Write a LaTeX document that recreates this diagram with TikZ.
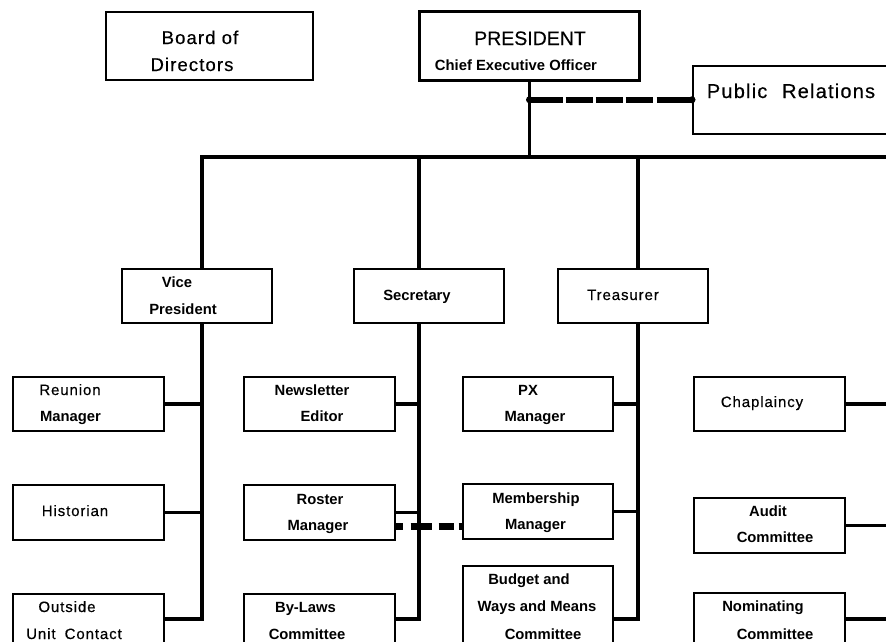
\documentclass[tikz,border=0pt]{standalone}
\usepackage{fontspec}
\setmainfont{Liberation Sans}
\newfontfamily\spcfont[LetterSpace=6,FakeBold=0.4]{Liberation Sans}
\newfontfamily\prfont[FakeBold=0.3]{Liberation Sans}
\begin{document}
\begin{tikzpicture}[x=1pt,y=-1pt,
  box/.style={draw, line width=1.5pt, rectangle, inner sep=0pt, anchor=north west},
  conn/.style={line width=3.5pt},
  rg/.style={font=\spcfont\fontsize{15}{16}\selectfont, inner sep=0pt, anchor=base},
  bd/.style={font=\bfseries\fontsize{14.8}{16}\selectfont, inner sep=0pt, anchor=base},
  big/.style={font=\spcfont\fontsize{18.5}{20}\selectfont, inner sep=0pt, anchor=base},
  pdash/.style={line width=5.5pt, dash pattern=on 33pt off 3pt on 27pt off 3pt on 27pt off 3pt on 27pt off 4pt on 40pt off 10pt},
  rdash/.style={line width=7pt, dash pattern=on 7pt off 8pt on 21pt off 7pt on 15pt off 5pt on 6pt off 10pt}
]
\useasboundingbox (0,0) rectangle (886,641);
\fill[white] (0,0) rectangle (886,641);
\clip (0,0) rectangle (886,641);

% boxes
\node[box, minimum width=207pt, minimum height=68pt] (board) at (105,11) {};
\node[box, line width=3pt, minimum width=220pt, minimum height=69pt] (pres) at (418,10) {};
\node[box, minimum width=260pt, minimum height=68pt] (pr) at (692,65) {};
\node[box, minimum width=150pt, minimum height=54pt] (vp) at (121,268) {};
\node[box, minimum width=150pt, minimum height=54pt] (sec) at (353,268) {};
\node[box, minimum width=150pt, minimum height=54pt] (tre) at (557,268) {};
\node[box, minimum width=151pt, minimum height=54pt] (reunion) at (12,376) {};
\node[box, minimum width=151pt, minimum height=55pt] (hist) at (12,484) {};
\node[box, minimum width=151pt, minimum height=50pt] (outside) at (12,593) {};
\node[box, minimum width=151pt, minimum height=54pt] (news) at (243,376) {};
\node[box, minimum width=151pt, minimum height=55pt] (roster) at (243,484) {};
\node[box, minimum width=151pt, minimum height=50pt] (bylaws) at (243,593) {};
\node[box, minimum width=150pt, minimum height=54pt] (px) at (462,376) {};
\node[box, minimum width=150pt, minimum height=55pt] (mem) at (462,483) {};
\node[box, minimum width=150pt, minimum height=106pt] (budget) at (462,565) {};
\node[box, minimum width=151pt, minimum height=54pt] (chap) at (693,376) {};
\node[box, minimum width=151pt, minimum height=55pt] (audit) at (693,497) {};
\node[box, minimum width=151pt, minimum height=52pt] (nom) at (693,592) {};

% texts
\node[big] (boardA) at (200,44) {Board of};
\node[big] (boardB) at (192,71) {Directors};
\node[font=\prfont\fontsize{19.5}{20}\selectfont, inner sep=0pt, anchor=base] (presA) at (530,45) {PRESIDENT};
\node[bd] (presB) at (516,70) {Chief Executive Officer};
\node[big, font=\spcfont\fontsize{20}{20}\selectfont] (prT) at (791,98) {Public\hspace{8pt} Relations};
\node[bd] (vpA) at (177,287) {Vice};
\node[bd] (vpB) at (183,314) {President};
\node[bd] (secT) at (417,300) {Secretary};
\node[rg] (treT) at (623,300) {Treasurer};
\node[rg] (reuA) at (70,395) {Reunion};
\node[bd] (reuB) at (70.5,421) {Manager};
\node[rg] (histT) at (75,516) {Historian};
\node[rg] (outA) at (67,612) {Outside};
\node[rg] (outB) at (74,639) {Unit\hspace{4pt} Contact};
\node[bd] (newsA) at (312,395) {Newsletter};
\node[bd] (newsB) at (322,421) {Editor};
\node[bd] (rosA) at (320,504) {Roster};
\node[bd] (rosB) at (318,530) {Manager};
\node[bd] (byA) at (305.5,612) {By-Laws};
\node[bd] (byB) at (307,639) {Committee};
\node[bd] (pxA) at (528,395) {PX};
\node[bd] (pxB) at (535,421) {Manager};
\node[bd] (memA) at (536,503) {Membership};
\node[bd] (memB) at (535.5,529) {Manager};
\node[bd] (budA) at (529,584) {Budget and};
\node[bd] (budB) at (537,611) {Ways and Means};
\node[bd] (budC) at (543,639) {Committee};
\node[rg] (chapT) at (762,407) {Chaplaincy};
\node[bd] (audA) at (768,516) {Audit};
\node[bd] (audB) at (775,542) {Committee};
\node[bd] (nomA) at (763,611) {Nominating};
\node[bd] (nomB) at (775,639) {Committee};

% connectors
\coordinate (busL) at (202,157);
\coordinate (busR) at (900,157);
\coordinate (sx) at (419,157);
\coordinate (tx) at (638,157);
\coordinate (rx) at (900,0);

\draw[conn] (pres.south) -- (pres.south |- busL);
\draw[conn] (busR) -- (busL) -- (busL |- vp.north);
\draw[conn] (sx) -- (sx |- sec.north);
\draw[conn] (tx) -- (tx |- tre.north);

\draw[conn] (busL |- vp.south) -- (busL |- outside.east) -- (outside.east);
\draw[conn] (reunion.east) -- (reunion.east -| busL);
\draw[conn] (hist.east) -- (hist.east -| busL);

\draw[conn] (sx |- sec.south) -- (sx |- bylaws.east) -- (bylaws.east);
\draw[conn] (news.east) -- (news.east -| sx);
\draw[conn] (roster.east) -- (roster.east -| sx);

\draw[conn] (tx |- tre.south) -- (tx |- budget.east) -- (budget.east);
\draw[conn] (px.east) -- (px.east -| tx);
\draw[conn] (mem.east) -- (mem.east -| tx);

\draw[conn] (chap.east) -- (chap.east -| rx);
\draw[conn] (audit.east) -- (audit.east -| rx);
\draw[conn] (nom.east) -- (nom.east -| rx);

% dashed staff links
\draw[pdash] (pres.south |- pr.west) -- (pr.west);
\fill (pres.south |- pr.west) circle (3.5pt);
\fill (pr.west) circle (3.5pt);
\coordinate (rd) at ([yshift=-14pt]roster.east);
\draw[rdash] (rd) -- (rd -| mem.west);
\end{tikzpicture}
\end{document}
